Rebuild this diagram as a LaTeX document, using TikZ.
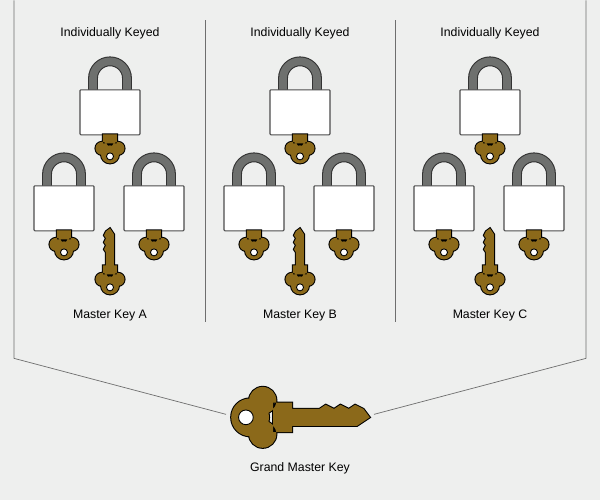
\documentclass[tikz,border=0pt]{standalone}
\usepackage{fontspec}
\setmainfont{Liberation Sans}
\definecolor{bg_grey}{RGB}{238, 239, 238}
\definecolor{key_brown}{RGB}{139, 105, 26}
\definecolor{shackle_grey}{RGB}{110, 112, 110}
\definecolor{line_grey}{RGB}{110, 110, 110}
\newcommand{\headshape}{(-7,-1) rectangle (7,8)
  (-8,13) circle (6.5) (8,13) circle (6.5) (0,19) circle (9)}
\newcommand{\bladeshape}{(4,2) -- (4,-32) -- (0,-38) -- (-4,-35)
  -- (-6,-31) -- (-4,-28) -- (-6,-24) -- (-4,-21) -- (-6,-17) -- (-4,-14)
  -- (-4,2) -- cycle}
\newcommand{\keyhole}{\draw[fill=white,line width=0.5pt] (0,21) circle (3.5);}
\tikzset{
  lockbody/.style={rectangle,fill=white,draw=black!70,line width=0.6pt,
    rounded corners=0.5pt,minimum width=1.2cm,minimum height=0.9cm,inner sep=0pt},
  lbl/.style={font=\fontsize{7}{8}\selectfont},
  frame/.style={draw=line_grey,line width=0.4pt},
  pics/keyhead/.style={code={
    \draw[line width=1.2pt,black] \headshape;
    \fill[key_brown] \headshape;
    \keyhole
  }},
  pics/fullkey/.style={code={
    \draw[line width=1.2pt,black] \headshape \bladeshape;
    \fill[key_brown] \headshape \bladeshape;
    \keyhole
  }}
}
\newcommand{\padlock}[3]{%
  \draw[black!80,line width=5.6pt] (#2-17,#3-22) -- ++(0,-12)
    arc (180:360:17) -- ++(0,12);
  \draw[shackle_grey,line width=4.4pt] (#2-17,#3-22) -- ++(0,-12)
    arc (180:360:17) -- ++(0,12);
  \node[lockbody] (#1) at (#2,#3) {};
  \pic at (#1.south) {keyhead};
}
\begin{document}
\begin{tikzpicture}[x=0.02cm,y=-0.02cm]
  \fill[bg_grey] (0,0) rectangle (600,500);
  % panels
  \foreach \cx/\ltr in {110/A,300/B,490/C}{
    \node[lbl] (keyed\ltr) at (\cx,33) {Individually Keyed};
    \padlock{top\ltr}{\cx}{112}
    \padlock{left\ltr}{\cx-46}{208}
    \padlock{right\ltr}{\cx+44}{208}
    \pic (master\ltr) at (\cx,266) {fullkey};
    \node[lbl] (name\ltr) at (\cx,315) {Master Key \ltr};
  }
  % dividers and frame
  \coordinate (d1t) at (205,20); \coordinate (d1b) at (205,322);
  \coordinate (d2t) at (395,20); \coordinate (d2b) at (395,322);
  \draw[frame] (d1t) -- (d1b) (d2t) -- (d2b);
  \coordinate (lt) at (14,0); \coordinate (lc) at (14,358);
  \coordinate (rt) at (586,0); \coordinate (rc) at (586,358);
  \coordinate (gl) at (226,414); \coordinate (gr) at (374,414);
  \draw[frame] (lt) -- (lc) -- (gl);
  \draw[frame] (rt) -- (rc) -- (gr);
  % grand master
  \pic[scale=2.1,rotate=-90] (grand) at (290,417) {fullkey};
  \node[lbl] (grandlbl) at (300,468) {Grand Master Key};
\end{tikzpicture}
\end{document}
